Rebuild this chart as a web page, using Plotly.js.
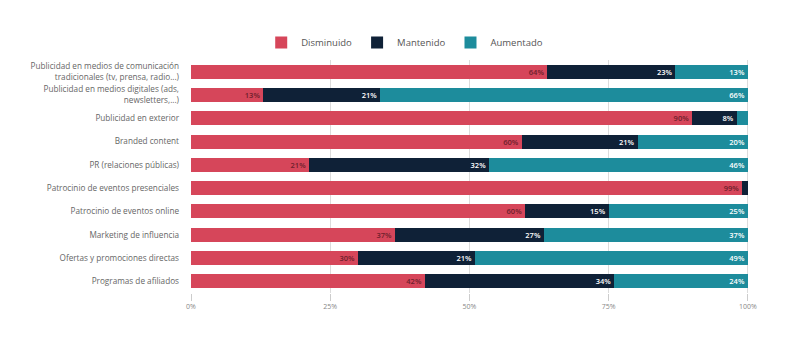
<!DOCTYPE html>
<html>
<head>
<meta charset="utf-8">
<script src="https://cdn.plot.ly/plotly-3.0.1.min.js"></script>
<style>html,body{margin:0;padding:0;background:#fff;}#chart{width:800px;height:359px;}</style>
</head>
<body>
<div id="chart"></div>
<script>
const categories = [
  "Publicidad en medios de comunicación<br>tradicionales (tv, prensa, radio...)",
  "Publicidad en medios digitales (ads,<br>newsletters,...)",
  "Publicidad en exterior",
  "Branded content",
  "PR (relaciones públicas)",
  "Patrocinio de eventos presenciales",
  "Patrocinio de eventos online",
  "Marketing de influencia",
  "Ofertas y promociones directas",
  "Programas de afiliados"
];
const disminuido = [64, 13, 90, 60, 21, 99, 60, 37, 30, 42];
const mantenido  = [23, 21, 8, 21, 32, 1, 15, 27, 21, 34];
const aumentado  = [13, 66, 2, 20, 46, 0, 25, 37, 49, 24];
const tickVals = [0, 25, 50, 75, 100];
const tickText = ["0%", "25%", "50%", "75%", "100%"];

const lbl = arr => arr.map(v => v >= 5 ? v + "%" : "");
function mk(name, vals, color, txtColor) {
  return {
    type: "bar", orientation: "h", name: name,
    y: categories, x: vals,
    marker: {color: color, line: {width: 0}},
    text: lbl(vals), textposition: "inside", insidetextanchor: "end",
    textangle: 0, constraintext: "none",
    textfont: {family: "Open Sans", size: 7.5, color: txtColor, weight: 600},
    hoverinfo: "none"
  };
}
const data = [
  mk("Disminuido", disminuido, "#d6465a", "#6e1f2c"),
  mk("Mantenido", mantenido, "#0f2137", "#ffffff"),
  mk("Aumentado", aumentado, "#1d8c9c", "#ffffff")
];
const layout = {
  width: 800, height: 359,
  margin: {l: 191, r: 51, t: 60, b: 66, pad: 0, autoexpand: false},
  barmode: "stack", barnorm: "percent", bargap: 0.4,
  paper_bgcolor: "#fff", plot_bgcolor: "#fff",
  font: {family: "Open Sans", color: "#666"},
  showlegend: true,
  legend: {orientation: "h", xref: "paper", yref: "paper", x: 0.383, xanchor: "center",
           y: 1.075, yanchor: "middle", font: {size: 9.5, color: "#555"},
           itemwidth: 30, traceorder: "normal", bgcolor: "rgba(0,0,0,0)"},
  xaxis: {range: [0, 100.2], tickvals: tickVals, ticktext: tickText, automargin: false,
          showgrid: true, gridcolor: "#dcdcdc", gridwidth: 1, zeroline: false,
          ticks: "outside", ticklen: 7, tickcolor: "#cccccc",
          tickfont: {size: 7, color: "#888"}, fixedrange: true},
  yaxis: {autorange: "reversed", type: "category", showgrid: false, automargin: false,
          ticks: "", ticklabelstandoff: 11,
          tickfont: {size: 8.2, color: "#666"}, fixedrange: true}
};
Plotly.newPlot("chart", data, layout, {displayModeBar: false, staticPlot: true});
</script>
</body>
</html>
